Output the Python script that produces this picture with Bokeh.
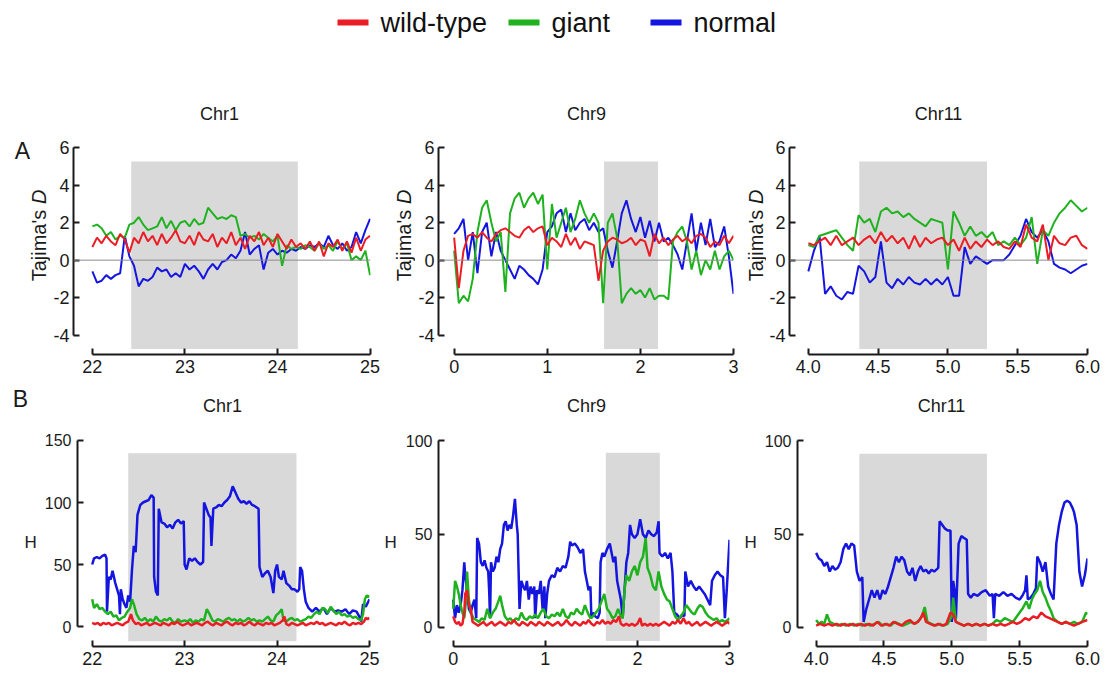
import numpy as np
from bokeh.plotting import figure
from bokeh.models import Span, Label, FixedTicker, NumeralTickFormatter, Range1d
from bokeh.core.properties import value
from bokeh.layouts import column, row
from bokeh.embed import file_html
from bokeh.resources import INLINE

FONT = "Liberation Sans"
TXT = "#1a1a1a"
SERIES = ["wild-type", "giant", "normal"]
COLORS = {"wild-type": "#ec1c24", "giant": "#1fb21f", "normal": "#1515e0"}
TITLES = ["Chr1", "Chr9", "Chr11"]

# ---------------- Panel A: Tajima's D (window positions, Mb) ----------------
a1_pos = np.linspace(22.0, 25.0, 61)
a2_pos = np.linspace(0.0, 3.0, 61)
a3_pos = np.linspace(4.0, 6.0, 51)

a1_giant = [1.8, 1.9, 1.7, 1.3, 1.5, 1.1, 1.3, 1.2, 1.9, 2.0,
            2.3, 1.9, 1.6, 1.7, 1.8, 2.3, 1.7, 2.1, 1.6, 2.0,
            2.1, 1.8, 2.2, 1.9, 2.0, 2.8, 2.5, 2.2, 2.3, 2.2,
            2.4, 2.3, 1.3, 1.4, 1.2, 1.3, 1.1, 1.4, 1.2, 1.0,
            1.3, -0.3, 0.8, 0.6, 0.7, 0.6, 0.8, 0.7, 0.5, 0.9,
            0.6, 0.8, 0.5, 1.0, 0.6, 0.9, 0.0, 0.2, 0.0, 0.5, -0.8]
a1_wild = [0.7, 1.2, 0.9, 1.3, 1.0, 0.8, 1.4, 1.1, 0.4, 1.2,
           0.9, 1.5, 1.0, 1.3, 0.8, 1.4, 0.9, 1.2, 1.6, 1.0,
           0.9, 1.3, 0.8, 1.5, 1.1, 1.0, 1.4, 0.7, 1.2, 0.9,
           1.5, 0.8, 1.2, 0.6, 1.3, 1.0, 1.5, 0.8, 1.2, 0.7,
           1.4, 1.0, 0.6, 1.1, 0.7, 0.9, 0.6, 1.0, 0.5, 1.0,
           0.2, 0.9, 0.7, 1.1, 0.5, 1.0, 0.4, 1.2, 0.5, 1.1, 1.3]
a1_normal = [-0.6, -1.2, -1.1, -0.8, -1.0, -0.8, -0.7, 1.3, 0.2, -0.3,
             -1.4, -1.0, -1.1, -0.9, -0.4, -0.6, -0.5, -0.9, -0.7, -0.9,
             -0.2, -0.5, -0.3, -0.6, -1.0, -0.5, -0.2, -0.5, -0.1, 0.0,
             0.3, 0.1, 0.5, 1.5, 0.3, 0.6, 0.8, -0.5, 0.4, 0.6,
             0.3, 0.5, 0.4, 0.6, 0.5, 0.7, 0.6, 0.8, 0.7, 0.9,
             0.7, 1.3, 0.8, 0.6, 0.9, 0.5, 0.7, 1.5, 0.9, 1.6, 2.2]

a2_giant = [0.5, -2.3, -1.9, -2.2, -1.0, 1.5, 2.8, 3.2, 2.0, 1.0,
            1.5, -1.7, 2.5, 3.3, 3.6, 2.8, 3.3, 3.6, 3.0, 3.5,
            -0.5, 3.0, 1.2, 2.0, 2.8, 1.5, 2.2, 3.2, 2.5, 2.0,
            2.5, 2.0, -2.3, 2.0, 2.5, 1.2, -2.3, -1.8, -1.5, -1.8,
            -1.6, -2.0, -1.5, -2.1, -1.9, -1.9, -2.1, 1.0, 1.5, 1.8,
            1.0, -0.5, 0.5, -0.8, 0.0, -0.5, 0.5, -0.5, 0.2, 0.5, 0.0]
a2_wild = [1.2, -1.5, 0.5, 1.3, 1.4, 1.2, 1.5, 1.2, 1.0, 1.4,
           1.6, 1.7, 1.5, 1.3, 1.2, 1.6, 1.8, 1.5, 1.7, 1.8,
           0.8, 1.2, 1.0, 0.7, 1.4, 0.8, 1.2, 0.6, 1.0, 0.9,
           0.8, -1.1, 0.5, 1.0, 1.2, 1.1, 0.9, 1.0, 1.2, 0.8,
           1.1, 1.0, 0.2, 1.4, 0.9, 1.2, 0.8, 1.1, 1.3, 1.0,
           1.2, 0.9, 1.3, 1.4, 1.2, 0.7, 1.0, 0.8, 1.3, 0.9, 1.3]
a2_normal = [1.4, 1.7, 2.2, 0.0, 1.5, -0.7, 1.5, 2.0, 0.2, 1.5,
             0.5, 0.0, -0.5, -1.0, -0.3, -0.5, -0.8, -1.0, -1.3, -0.5,
             1.5, 1.8, 2.5, 2.7, 1.5, 2.5, 1.6, 2.0, 2.2, 1.6,
             2.0, 1.5, 1.7, 0.5, -0.4, 1.0, 2.5, 3.2, 2.2, 1.5,
             2.3, 1.2, 2.1, 1.0, 2.0, 1.0, 1.2, 0.8, 0.3, -0.5,
             1.0, 2.5, 0.5, 2.0, 0.8, 2.2, 0.7, 1.0, 1.8, 0.2, -1.8]

a3_giant = [0.8, 0.7, 1.3, 1.4, 1.5, 1.6, 1.2, 0.8, 0.5, 2.4,
            2.0, 2.2, 1.5, 2.6, 2.8, 2.5, 2.6, 2.3, 2.5, 2.2,
            2.0, 1.8, 2.2, 2.1, 2.0, -0.5, 2.6, 2.0, 1.3, 1.8,
            1.3, 1.5, 1.2, 1.5, 0.8, 1.0, 0.8, 1.2, 0.8, 1.2,
            2.3, -0.2, 1.6, 1.3, 2.0, 2.5, 2.8, 3.2, 2.9, 2.6, 2.8]
a3_wild = [0.9, 0.8, 1.0, 1.2, 0.8, 1.3, 0.8, 1.0, 1.2, 0.8,
           1.1, 1.3, 0.9, 1.5, 1.0, 1.3, 0.9, 1.2, 0.6, 1.3,
           0.7, 1.2, 0.9, 1.1, 1.2, 0.8, 1.1, 0.5, 1.2, 0.6,
           1.0, 0.7, 1.1, 0.8, 1.0, 0.7,
           0.6, 1.0, 0.7, 1.9, 1.2, 1.0, 1.9, 0.0, 1.3, 0.9,
           0.8, 1.2, 1.3, 0.8, 0.6]
a3_normal = [-0.6, 0.5, 1.3, -1.8, -1.4, -1.9, -2.1, -1.7, -1.8, -0.3,
             -0.6, -1.2, -0.9, 1.0, -1.2, -1.5, -1.0, -1.3, -0.9, -1.2,
             -1.3, -1.0, -1.3, -1.0, -1.3, -0.9, -1.9, -1.9, 0.7, -0.2,
             0.2, 0.0, -0.2, 0.0, 0.0, 0.0, 0.3, 0.8, 1.3, 2.2,
             1.5, 1.2, 1.6, 1.0, -0.2, -0.4, -0.5, -0.7, -0.5, -0.3, -0.2]

# ---------------- Panel B: H statistic, (position, value) ----------------
b1_normal = [(22.00, 50), (22.02, 55), (22.05, 56), (22.08, 55), (22.11, 57), (22.14, 58), (22.155, 55),
             (22.16, 12), (22.18, 40), (22.2, 38), (22.22, 45), (22.25, 35), (22.27, 30), (22.29, 25),
             (22.3, 10), (22.31, 30), (22.33, 22), (22.35, 18), (22.37, 15), (22.39, 25), (22.41, 20),
             (22.43, 45), (22.45, 65), (22.47, 60), (22.49, 90), (22.52, 98), (22.55, 100), (22.58, 101),
             (22.61, 102), (22.64, 106), (22.665, 104), (22.67, 40), (22.69, 28), (22.71, 25), (22.72, 95),
             (22.75, 84), (22.78, 83), (22.81, 80), (22.84, 82), (22.87, 79), (22.9, 84), (22.93, 86),
             (22.96, 83), (22.99, 85), (23.0, 50), (23.02, 46), (23.05, 55), (23.08, 53), (23.11, 55),
             (23.14, 52), (23.17, 50), (23.2, 52), (23.21, 100), (23.23, 96), (23.26, 90), (23.28, 88),
             (23.29, 65), (23.31, 95), (23.34, 96), (23.37, 98), (23.4, 97), (23.43, 100), (23.46, 102),
             (23.49, 105), (23.52, 113), (23.55, 108), (23.58, 103), (23.61, 100), (23.64, 101), (23.67, 99),
             (23.7, 101), (23.73, 98), (23.76, 97), (23.8, 95), (23.81, 48), (23.84, 40), (23.87, 43),
             (23.9, 45), (23.93, 40), (23.96, 27), (23.98, 45), (24.0, 50), (24.02, 40), (24.05, 38),
             (24.07, 45), (24.1, 35), (24.13, 33), (24.16, 30), (24.19, 30), (24.22, 28), (24.24, 30),
             (24.25, 48), (24.27, 45), (24.29, 30), (24.31, 20), (24.34, 15), (24.38, 12), (24.42, 15),
             (24.46, 12), (24.5, 15), (24.54, 10), (24.58, 15), (24.62, 12), (24.66, 13), (24.7, 12),
             (24.74, 14), (24.78, 10), (24.82, 13), (24.86, 12), (24.89, 8), (24.91, 4), (24.93, 18),
             (24.96, 16), (25.0, 22)]
b1_giant = [(22.00, 22), (22.02, 15), (22.05, 18), (22.08, 14), (22.11, 15), (22.14, 12), (22.17, 10),
            (22.2, 12), (22.23, 8), (22.26, 9), (22.29, 5), (22.32, 7), (22.35, 8), (22.38, 12), (22.41, 15),
            (22.43, 22), (22.45, 18), (22.48, 10), (22.51, 6), (22.54, 5), (22.57, 7), (22.6, 4), (22.63, 6),
            (22.66, 4), (22.69, 8), (22.72, 5), (22.75, 4), (22.78, 6), (22.81, 5), (22.84, 7), (22.87, 4),
            (22.9, 3), (22.93, 6), (22.96, 4), (23.0, 5), (23.03, 4), (23.06, 6), (23.09, 3), (23.12, 5),
            (23.15, 4), (23.18, 6), (23.21, 5), (23.24, 14), (23.27, 10), (23.3, 5), (23.33, 4), (23.36, 6),
            (23.39, 5), (23.42, 4), (23.45, 6), (23.48, 7), (23.51, 5), (23.54, 6), (23.57, 4), (23.6, 6),
            (23.63, 4), (23.66, 5), (23.69, 7), (23.72, 5), (23.75, 6), (23.78, 4), (23.81, 5), (23.84, 4),
            (23.87, 6), (23.9, 8), (23.93, 5), (23.96, 4), (23.99, 9), (24.02, 11), (24.05, 14), (24.07, 5),
            (24.1, 4), (24.13, 6), (24.16, 7), (24.19, 5), (24.22, 6), (24.25, 4), (24.28, 5), (24.31, 6),
            (24.34, 8), (24.37, 7), (24.4, 10), (24.43, 12), (24.46, 10), (24.49, 15), (24.52, 14),
            (24.55, 11), (24.58, 16), (24.61, 13), (24.64, 10), (24.67, 12), (24.7, 9), (24.73, 10),
            (24.76, 8), (24.79, 9), (24.82, 7), (24.85, 8), (24.88, 6), (24.91, 5), (24.93, 10), (24.95, 22),
            (24.97, 25), (25.0, 24)]
b1_wild = [(22.0, 3), (22.03, 2), (22.06, 3), (22.09, 1), (22.12, 3), (22.15, 2), (22.18, 3), (22.21, 1),
           (22.24, 2), (22.27, 3), (22.3, 2), (22.33, 1), (22.36, 3), (22.39, 4), (22.42, 10), (22.44, 5),
           (22.47, 2), (22.5, 3), (22.53, 1), (22.56, 2), (22.59, 3), (22.62, 1), (22.65, 2), (22.68, 3),
           (22.71, 2), (22.74, 1), (22.77, 3), (22.8, 2), (22.83, 1), (22.86, 3), (22.89, 2), (22.92, 4),
           (22.95, 2), (22.98, 1), (23.01, 2), (23.04, 3), (23.07, 1), (23.1, 2), (23.13, 3), (23.16, 2),
           (23.19, 1), (23.22, 3), (23.25, 4), (23.28, 2), (23.31, 1), (23.34, 3), (23.37, 2), (23.4, 1),
           (23.43, 3), (23.46, 4), (23.49, 2), (23.52, 1), (23.55, 3), (23.58, 2), (23.61, 3), (23.64, 1),
           (23.67, 2), (23.7, 4), (23.73, 2), (23.76, 1), (23.79, 3), (23.82, 2), (23.85, 1), (23.88, 3),
           (23.91, 2), (23.94, 3), (23.97, 1), (24.0, 2), (24.03, 3), (24.06, 5), (24.08, 8), (24.1, 2),
           (24.13, 1), (24.16, 3), (24.19, 2), (24.22, 1), (24.25, 2), (24.28, 3), (24.31, 1), (24.34, 2),
           (24.37, 3), (24.4, 2), (24.43, 4), (24.46, 2), (24.49, 3), (24.52, 1), (24.55, 2), (24.58, 3),
           (24.61, 2), (24.64, 1), (24.67, 3), (24.7, 2), (24.73, 4), (24.76, 2), (24.79, 1), (24.82, 3),
           (24.85, 2), (24.88, 3), (24.91, 2), (24.94, 4), (24.96, 7), (24.98, 6), (25.0, 7)]

b2_normal = [(0.0, 15), (0.02, 5), (0.04, 12), (0.06, 8), (0.08, 12), (0.1, 20), (0.12, 35), (0.13, 28),
             (0.15, 20), (0.17, 10), (0.19, 8), (0.21, 12), (0.23, 15), (0.25, 5), (0.26, 48), (0.28, 45),
             (0.3, 35), (0.32, 33), (0.34, 36), (0.36, 32), (0.38, 30), (0.39, 20), (0.4, 5), (0.41, 35),
             (0.43, 30), (0.45, 32), (0.47, 38), (0.49, 35), (0.51, 42), (0.53, 45), (0.55, 55), (0.57, 57),
             (0.59, 52), (0.61, 55), (0.63, 53), (0.65, 60), (0.67, 69), (0.69, 55), (0.7, 50), (0.72, 10),
             (0.74, 25), (0.76, 22), (0.78, 20), (0.8, 25), (0.82, 15), (0.84, 22), (0.86, 18), (0.88, 22),
             (0.89, 5), (0.91, 20), (0.93, 18), (0.95, 25), (0.97, 10), (0.99, 22), (1.0, 5), (1.02, 18),
             (1.04, 25), (1.07, 28), (1.1, 27), (1.13, 32), (1.16, 30), (1.19, 33), (1.22, 32), (1.25, 38),
             (1.27, 46), (1.29, 44), (1.32, 45), (1.35, 43), (1.38, 40), (1.41, 42), (1.43, 30), (1.45, 25),
             (1.47, 20), (1.49, 22), (1.5, 5), (1.52, 8), (1.54, 6), (1.57, 5), (1.59, 8), (1.6, 35),
             (1.62, 40), (1.64, 38), (1.67, 42), (1.7, 45), (1.72, 40), (1.74, 35), (1.76, 38), (1.78, 25),
             (1.8, 20), (1.82, 15), (1.84, 5), (1.86, 20), (1.88, 35), (1.9, 40), (1.92, 55), (1.94, 50),
             (1.97, 48), (2.0, 50), (2.03, 58), (2.06, 50), (2.09, 48), (2.12, 52), (2.15, 50), (2.18, 49),
             (2.21, 51), (2.23, 57), (2.24, 40), (2.27, 38), (2.3, 40), (2.33, 37), (2.36, 40), (2.38, 30),
             (2.4, 8), (2.43, 7), (2.46, 5), (2.49, 7), (2.51, 6), (2.52, 30), (2.55, 22), (2.58, 25),
             (2.61, 22), (2.64, 20), (2.67, 22), (2.7, 20), (2.73, 18), (2.76, 15), (2.79, 12), (2.81, 25),
             (2.84, 28), (2.87, 30), (2.9, 28), (2.93, 27), (2.95, 5), (2.97, 20), (3.0, 47)]
b2_giant = [(0.0, 10), (0.02, 25), (0.04, 22), (0.06, 18), (0.08, 12), (0.1, 8), (0.12, 5), (0.14, 15),
            (0.15, 30), (0.17, 15), (0.19, 8), (0.22, 5), (0.25, 4), (0.28, 3), (0.31, 5), (0.34, 4),
            (0.37, 10), (0.4, 5), (0.43, 8), (0.46, 10), (0.49, 14), (0.51, 17), (0.53, 12), (0.56, 6),
            (0.59, 4), (0.62, 5), (0.65, 3), (0.68, 5), (0.71, 4), (0.74, 8), (0.77, 5), (0.8, 4), (0.83, 6),
            (0.86, 5), (0.89, 7), (0.92, 5), (0.95, 8), (0.98, 10), (1.01, 6), (1.04, 5), (1.07, 7), (1.1, 6),
            (1.13, 8), (1.16, 6), (1.19, 10), (1.22, 6), (1.25, 5), (1.28, 8), (1.31, 7), (1.34, 10),
            (1.37, 8), (1.4, 7), (1.43, 12), (1.46, 8), (1.49, 5), (1.52, 6), (1.55, 8), (1.58, 10),
            (1.61, 14), (1.64, 18), (1.67, 10), (1.7, 8), (1.73, 5), (1.76, 6), (1.79, 10), (1.82, 6),
            (1.84, 5), (1.86, 20), (1.88, 28), (1.91, 25), (1.94, 30), (1.97, 33), (2.0, 28), (2.03, 35),
            (2.06, 38), (2.09, 48), (2.11, 32), (2.14, 28), (2.17, 22), (2.2, 20), (2.23, 30), (2.26, 22),
            (2.29, 18), (2.32, 15), (2.35, 14), (2.38, 10), (2.41, 6), (2.44, 4), (2.47, 6), (2.5, 8),
            (2.53, 12), (2.56, 10), (2.59, 8), (2.62, 7), (2.65, 10), (2.68, 12), (2.71, 11), (2.74, 8),
            (2.77, 6), (2.8, 5), (2.83, 4), (2.86, 5), (2.89, 3), (2.92, 4), (2.95, 3), (2.98, 4), (3.0, 5)]
b2_wild = [(0.0, 6), (0.02, 3), (0.04, 2), (0.06, 3), (0.08, 1), (0.1, 2), (0.12, 8), (0.13, 18), (0.15, 20),
           (0.17, 12), (0.19, 10), (0.21, 3), (0.24, 2), (0.27, 1), (0.3, 2), (0.33, 3), (0.36, 1), (0.39, 2),
           (0.42, 3), (0.45, 1), (0.48, 2), (0.51, 3), (0.54, 2), (0.57, 1), (0.6, 3), (0.63, 2), (0.66, 4),
           (0.69, 2), (0.72, 1), (0.75, 3), (0.78, 2), (0.81, 1), (0.84, 3), (0.87, 2), (0.9, 1), (0.93, 3),
           (0.96, 2), (0.99, 1), (1.02, 3), (1.05, 2), (1.08, 1), (1.11, 2), (1.14, 3), (1.17, 1), (1.2, 2),
           (1.23, 4), (1.26, 2), (1.29, 1), (1.32, 3), (1.35, 2), (1.38, 1), (1.41, 3), (1.44, 2), (1.47, 4),
           (1.5, 2), (1.53, 1), (1.56, 3), (1.59, 2), (1.62, 4), (1.65, 2), (1.68, 3), (1.71, 2), (1.74, 4),
           (1.77, 3), (1.8, 6), (1.82, 2), (1.85, 1), (1.88, 2), (1.91, 1), (1.94, 2), (1.97, 1), (2.0, 2),
           (2.03, 5), (2.05, 1), (2.08, 2), (2.11, 1), (2.14, 2), (2.17, 1), (2.2, 2), (2.23, 1), (2.26, 2),
           (2.29, 3), (2.32, 2), (2.35, 1), (2.38, 3), (2.41, 2), (2.44, 4), (2.47, 2), (2.5, 5), (2.53, 2),
           (2.56, 3), (2.59, 1), (2.62, 2), (2.65, 3), (2.68, 1), (2.71, 2), (2.74, 3), (2.77, 2), (2.8, 1),
           (2.83, 2), (2.86, 3), (2.89, 2), (2.92, 1), (2.95, 2), (2.98, 3), (3.0, 2)]

b3_normal = [(4.0, 40), (4.02, 37), (4.04, 36), (4.06, 33), (4.08, 35), (4.1, 30), (4.12, 33), (4.14, 31),
             (4.16, 32), (4.18, 35), (4.2, 42), (4.22, 45), (4.24, 42), (4.26, 45), (4.28, 44), (4.3, 30),
             (4.32, 25), (4.34, 27), (4.35, 3), (4.37, 10), (4.39, 15), (4.41, 20), (4.43, 16), (4.45, 20),
             (4.47, 15), (4.49, 20), (4.51, 18), (4.53, 22), (4.55, 27), (4.57, 32), (4.59, 38), (4.61, 35),
             (4.63, 38), (4.65, 36), (4.67, 30), (4.69, 28), (4.71, 32), (4.73, 25), (4.75, 30), (4.77, 33),
             (4.79, 30), (4.81, 31), (4.83, 29), (4.85, 31), (4.87, 30), (4.9, 32), (4.91, 57), (4.93, 55),
             (4.95, 53), (4.97, 52), (4.99, 52), (5.0, 3), (5.01, 25), (5.02, 20), (5.03, 5), (5.05, 45),
             (5.07, 49), (5.09, 48), (5.11, 47), (5.12, 18), (5.14, 16), (5.16, 18), (5.19, 17), (5.22, 19),
             (5.25, 20), (5.28, 17), (5.3, 18), (5.31, 5), (5.32, 18), (5.35, 17), (5.38, 19), (5.41, 17),
             (5.44, 18), (5.47, 16), (5.5, 15), (5.52, 17), (5.54, 20), (5.55, 28), (5.56, 15), (5.58, 16),
             (5.6, 18), (5.62, 21), (5.63, 38), (5.65, 35), (5.67, 30), (5.69, 35), (5.71, 22), (5.73, 18),
             (5.75, 15), (5.76, 30), (5.77, 45), (5.79, 55), (5.81, 62), (5.83, 67), (5.85, 68), (5.87, 67),
             (5.89, 64), (5.9, 62), (5.92, 55), (5.94, 30), (5.96, 22), (5.98, 28), (6.0, 37)]
b3_giant = [(4.0, 4), (4.02, 2), (4.04, 3), (4.06, 2), (4.08, 7), (4.1, 3), (4.13, 2), (4.16, 1), (4.19, 2),
            (4.22, 1), (4.25, 2), (4.28, 1), (4.31, 2), (4.34, 1), (4.37, 2), (4.4, 1), (4.43, 2), (4.46, 3),
            (4.49, 1), (4.52, 2), (4.55, 1), (4.58, 3), (4.61, 2), (4.64, 1), (4.67, 2), (4.7, 3), (4.73, 2),
            (4.76, 4), (4.78, 6), (4.8, 11), (4.82, 3), (4.85, 2), (4.88, 1), (4.91, 2), (4.94, 1), (4.97, 2),
            (5.0, 6), (5.01, 16), (5.03, 3), (5.06, 2), (5.09, 1), (5.12, 2), (5.15, 1), (5.18, 2), (5.21, 1),
            (5.24, 2), (5.27, 1), (5.3, 2), (5.33, 4), (5.36, 3), (5.39, 5), (5.42, 4), (5.45, 3), (5.48, 6),
            (5.5, 8), (5.52, 10), (5.55, 14), (5.57, 10), (5.59, 15), (5.61, 18), (5.63, 20), (5.65, 25),
            (5.67, 19), (5.69, 16), (5.71, 12), (5.73, 9), (5.75, 5), (5.78, 3), (5.81, 2), (5.84, 3),
            (5.87, 2), (5.9, 3), (5.93, 2), (5.96, 3), (5.99, 8), (6.0, 7)]
b3_wild = [(4.0, 1), (4.03, 2), (4.06, 1), (4.09, 2), (4.12, 1), (4.15, 2), (4.18, 1), (4.21, 2), (4.24, 1),
           (4.27, 2), (4.3, 1), (4.33, 2), (4.36, 1), (4.39, 2), (4.42, 1), (4.45, 3), (4.48, 1), (4.51, 2),
           (4.54, 1), (4.57, 3), (4.6, 2), (4.63, 1), (4.66, 3), (4.69, 4), (4.72, 2), (4.75, 3), (4.77, 5),
           (4.79, 8), (4.81, 3), (4.84, 2), (4.87, 1), (4.9, 2), (4.93, 1), (4.96, 2), (4.99, 8), (5.01, 7),
           (5.03, 3), (5.06, 2), (5.09, 1), (5.12, 2), (5.15, 1), (5.18, 2), (5.21, 1), (5.24, 2), (5.27, 1),
           (5.3, 2), (5.33, 1), (5.36, 2), (5.39, 1), (5.42, 2), (5.45, 3), (5.48, 2), (5.51, 3), (5.54, 5),
           (5.57, 4), (5.6, 6), (5.63, 5), (5.66, 8), (5.69, 6), (5.72, 5), (5.75, 4), (5.78, 3), (5.81, 2),
           (5.84, 3), (5.87, 2), (5.9, 1), (5.93, 2), (5.96, 3), (6.0, 4)]

# shaded (selected) regions: (left, right, bottom, top)
shade_a = [(22.42, 24.22, -4.75, 5.27), (1.61, 2.19, -4.75, 5.27), (4.365, 5.28, -4.75, 5.27)]
shade_b = [(22.39, 24.21, -11.9, 139.8), (1.657, 2.243, -7.2, 93.7), (4.318, 5.259, -7.2, 93.2)]

xticks = [[22, 23, 24, 25], [0, 1, 2, 3], [4.0, 4.5, 5.0, 5.5, 6.0]]
xbounds = [(22, 25), (0, 3), (4.0, 6.0)]
a_yticks = [-4, -2, 0, 2, 4, 6]
b_yticks = [[0, 50, 100, 150], [0, 50, 100], [0, 50, 100]]

# ---------------- layout constants (page pixels) ----------------
TOP_H = 130            # legend + row A titles
ROW_A_H = 253          # row A frame runs from page y 130 to 354
MID_H = 42             # "B" + row B titles
ROW_B_H = 250
A_PX = 18.72           # pixels per Tajima's D unit
A_FRAME_TOP = 130
A_YR = (-5.04, 6.07 + 16 / A_PX)


def a_y(page_y):
    return A_YR[1] - (page_y - A_FRAME_TOP) / A_PX


def base_panel(width, height, borders, xr, yr, xt, xb, yt, yb, xfmt, ysize, ystand):
    left, right, top, bottom = borders
    p = figure(width=width, height=height, x_range=Range1d(*xr), y_range=Range1d(*yr),
               output_backend="svg", toolbar_location=None, title=None,
               min_border_left=left, min_border_right=right,
               min_border_top=top, min_border_bottom=bottom)
    p.outline_line_color = None
    p.grid.visible = False
    p.background_fill_color = "white"
    for ax in (p.xaxis[0], p.yaxis[0]):
        ax.axis_line_color = "#1a1a1a"
        ax.axis_line_width = 2
        ax.major_tick_line_color = "#1a1a1a"
        ax.major_tick_line_width = 2
        ax.major_tick_in = 6
        ax.major_tick_out = 0
        ax.minor_tick_line_color = None
        ax.major_label_text_font = FONT
        ax.major_label_text_color = TXT
    p.xaxis[0].major_label_text_font_size = "18px"
    p.xaxis[0].ticker = FixedTicker(ticks=xt)
    p.xaxis[0].bounds = xb
    p.xaxis[0].major_label_standoff = 5
    p.xaxis[0].formatter = NumeralTickFormatter(format=xfmt)
    p.yaxis[0].major_label_text_font_size = ysize
    p.yaxis[0].ticker = FixedTicker(ticks=yt)
    p.yaxis[0].bounds = yb
    p.yaxis[0].major_label_standoff = ystand
    p.yaxis[0].formatter = NumeralTickFormatter(format="0")
    return p


def strip(width, height, yr=None):
    f = figure(width=width, height=height, x_range=Range1d(0, width),
               y_range=Range1d(*(yr if yr else (0, height))),
               x_axis_type=None, y_axis_type=None, min_border=0, title=None,
               output_backend="svg", toolbar_location=None)
    f.outline_line_color = None
    f.grid.visible = False
    return f


def label(p, x, y, text, size="18px", **kw):
    p.add_layout(Label(x=x, y=y, text=text, text_font=FONT, text_font_size=size,
                       text_color=TXT, text_align=kw.pop("align", "center"),
                       text_baseline="middle", **kw))


# ---------------- Top strip: legend + row A titles ----------------
top = strip(1105, TOP_H)
leg_swatch_x = [337, 508, 650]
leg_y = TOP_H - 22
top.segment(x0=leg_swatch_x, x1=[x + 31 for x in leg_swatch_x], y0=[leg_y] * 3, y1=[leg_y] * 3,
            line_color=[COLORS[s] for s in SERIES], line_width=6)
top.text(x=[x + 43 for x in leg_swatch_x], y=[leg_y] * 3, text=SERIES,
         text_font=value(FONT), text_font_size="27px", text_color="#111111",
         text_baseline="middle", text_align="left")
for tx, t in zip([219, 586, 938], TITLES):
    label(top, tx, TOP_H - 113, t)

# ---------------- Row A ----------------
a_specs = [
    dict(strip=50, tj_x=38.5, width=331, borders=(21, 11, 0, 29), xr=(21.796, 25.005)),
    dict(strip=34, tj_x=22.3, width=326, borders=(22, 8, 0, 29), xr=(-0.168, 3.0)),
    dict(strip=25, tj_x=14, width=339, borders=(21, 18, 0, 29), xr=(3.865, 6.0)),
]
a_series = [
    (a1_pos, {"wild-type": a1_wild, "giant": a1_giant, "normal": a1_normal}),
    (a2_pos, {"wild-type": a2_wild, "giant": a2_giant, "normal": a2_normal}),
    (a3_pos, {"wild-type": a3_wild, "giant": a3_giant, "normal": a3_normal}),
]
row_a = []
for i, spec in enumerate(a_specs):
    s = strip(spec["strip"], ROW_A_H, A_YR)
    label(s, spec["tj_x"], a_y(209.2), "Tajima's", size="20px", align="right", angle=np.pi / 2)
    label(s, spec["tj_x"], a_y(203.6), "D", size="20px", align="left", angle=np.pi / 2,
          text_font_style="italic")
    if i == 0:
        label(s, 22, a_y(150), "A", size="23px")
    row_a.append(s)

    p = base_panel(spec["width"], ROW_A_H, spec["borders"], spec["xr"], A_YR,
                   xticks[i], xbounds[i], a_yticks, (-4, 6), "0.0" if i == 2 else "0", "18px", 4)
    l, r, b, t = shade_a[i]
    p.quad(left=[l], right=[r], bottom=[b], top=[t], fill_color="#d9d9d9", line_color=None)
    p.add_layout(Span(location=0, dimension="width", line_color="#8c8c8c", line_width=1))
    pos, d = a_series[i]
    for name in ["normal", "giant", "wild-type"]:
        p.line(pos, d[name], line_color=COLORS[name], line_width=2)
    row_a.append(p)

# ---------------- Middle strip: "B" + row B titles ----------------
mid = strip(1105, MID_H)
label(mid, 20, MID_H - 15, "B", size="23px")
for tx, t in zip([222, 586, 941], TITLES):
    label(mid, tx, MID_H - 22, t)

# ---------------- Row B ----------------
b_specs = [
    dict(width=381, borders=(77, 12, 13, 29), xr=(21.841, 25.0), yr=(-16.1, 151.6), yb=(0, 150), hs=5),
    dict(width=360, borders=(57, 12, 13, 29), xr=(-0.160, 3.0), yr=(-10.19, 101.34), yb=(0, 100), hs=6),
    dict(width=364, borders=(51, 18, 13, 29), xr=(3.8625, 6.0), yr=(-10.19, 101.34), yb=(0, 100), hs=5),
]
b_series = [
    {"wild-type": b1_wild, "giant": b1_giant, "normal": b1_normal},
    {"wild-type": b2_wild, "giant": b2_giant, "normal": b2_normal},
    {"wild-type": b3_wild, "giant": b3_giant, "normal": b3_normal},
]
row_b = []
for i, spec in enumerate(b_specs):
    p = base_panel(spec["width"], ROW_B_H, spec["borders"], spec["xr"], spec["yr"],
                   xticks[i], xbounds[i], b_yticks[i], spec["yb"], "0.0" if i == 2 else "0", "16px", 6)
    p.yaxis[0].axis_label = "H"
    p.yaxis[0].axis_label_orientation = "horizontal"
    p.yaxis[0].axis_label_standoff = spec["hs"]
    p.yaxis[0].axis_label_text_font = FONT
    p.yaxis[0].axis_label_text_font_size = "17px"
    p.yaxis[0].axis_label_text_font_style = "normal"
    p.yaxis[0].axis_label_text_color = TXT
    l, r, b, t = shade_b[i]
    p.quad(left=[l], right=[r], bottom=[b], top=[t], fill_color="#d9d9d9", line_color=None)
    for name in ["normal", "giant", "wild-type"]:
        xs = [pt[0] for pt in b_series[i][name]]
        ys = [pt[1] for pt in b_series[i][name]]
        p.line(xs, ys, line_color=COLORS[name], line_width=2.5)
    row_b.append(p)

layout = column(top, row(*row_a), mid, row(*row_b))
open("out.html", "w").write(file_html(layout, INLINE))
